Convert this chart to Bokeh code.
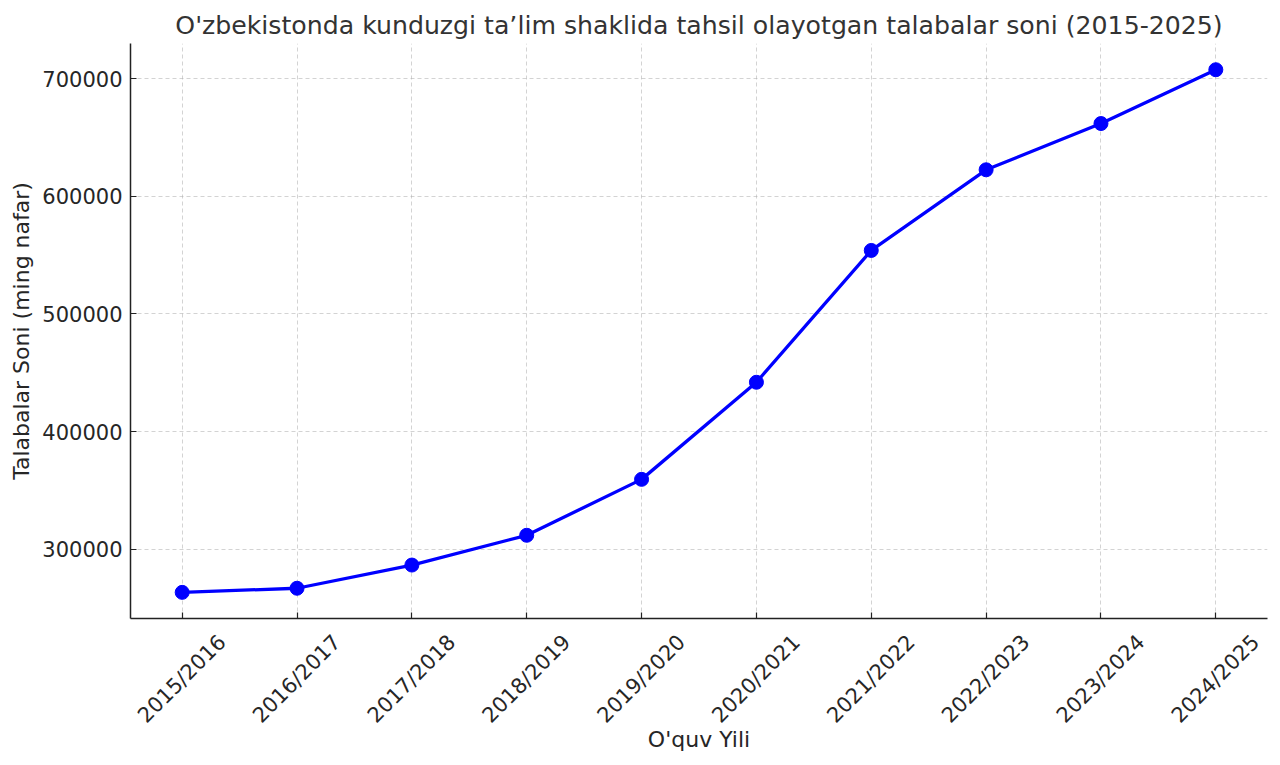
import numpy as np
from bokeh.plotting import figure
from bokeh.models import Range1d, FixedTicker, ColumnDataSource, LinearAxis
from bokeh.embed import file_html
from bokeh.resources import INLINE
from math import pi

years = ["2015/2016", "2016/2017", "2017/2018", "2018/2019", "2019/2020",
         "2020/2021", "2021/2022", "2022/2023", "2023/2024", "2024/2025"]
students = [263500, 267000, 286700, 312000, 359500, 442000, 554000, 622500, 661800, 707500]
y_ticks = [300000, 400000, 500000, 600000, 700000]

x_idx = list(range(len(years)))
src = ColumnDataSource(data=dict(x=x_idx, y=students, year=years))

FONT = "DejaVu Sans"
TXT = "#262626"

W, H = 1272, 757
BL, BR, BT, BB = 130, 5, 43, 139
x0, x1 = -0.45, len(years) - 1 + 0.45
y0, y1 = 241300, 729800
frame_w = W - BL - BR

p = figure(width=W, height=H, output_backend="svg", toolbar_location=None,
           x_range=Range1d(x0, x1), y_range=Range1d(y0, y1),
           min_border_left=BL, min_border_right=BR, min_border_top=BT, min_border_bottom=BB)

p.title.text = "O'zbekistonda kunduzgi ta\u2019lim shaklida tahsil olayotgan talabalar soni (2015-2025)"
p.title.align = "center"
p.title.text_font = FONT
p.title.text_font_size = "25.2px"
p.title.text_font_style = "normal"
p.title.text_color = "#333333"
p.title.offset = 0
p.title.standoff = 8

p.outline_line_color = None
p.background_fill_color = "white"
p.border_fill_color = "white"

p.line("x", "y", source=src, line_color="#0000ff", line_width=3.3)
p.scatter("x", "y", source=src, size=14, fill_color="#0000ff", line_color="#0000ff")

xa = p.xaxis[0]
ya = p.yaxis[0]
xa.ticker = FixedTicker(ticks=x_idx)
xa.major_label_overrides = {i: "" for i in x_idx}
ya.ticker = FixedTicker(ticks=y_ticks)
ya.formatter.use_scientific = False
ya.axis_label = "Talabalar Soni (ming nafar)"

for ax in (xa, ya):
    ax.axis_label_text_font = FONT
    ax.axis_label_text_font_size = "22px"
    ax.axis_label_text_font_style = "normal"
    ax.axis_label_text_color = TXT
    ax.major_label_text_font = FONT
    ax.major_label_text_font_size = "21px"
    ax.major_label_text_color = TXT
    ax.axis_line_color = "#222222"
    ax.axis_line_width = 1.5
    ax.major_tick_line_color = "#222222"
    ax.major_tick_line_width = 1.2
    ax.major_tick_out = 0
    ax.major_tick_in = 6
    ax.minor_tick_line_color = None
    ax.major_label_standoff = 8

xa.major_label_text_font_size = "1px"
xa.major_label_standoff = 0
ya.axis_label_standoff = 5

# second axis only for the 45-degree category labels, shifted so each label is
# centred under its tick as in the reference
shift = 40 * (x1 - x0) / frame_w
p.extra_x_ranges = {"lab": Range1d(x0 - shift, x1 - shift)}
la = LinearAxis(x_range_name="lab", ticker=FixedTicker(ticks=x_idx),
                major_label_overrides={i: y for i, y in enumerate(years)},
                major_label_orientation=pi / 4,
                axis_label="O'quv Yili")
la.axis_line_color = None
la.major_tick_line_color = None
la.minor_tick_line_color = None
la.major_tick_out = 0
la.major_tick_in = 0
la.major_label_standoff = 20
la.major_label_text_font = FONT
la.major_label_text_font_size = "21px"
la.major_label_text_color = TXT
la.axis_label_text_font = FONT
la.axis_label_text_font_size = "22px"
la.axis_label_text_font_style = "normal"
la.axis_label_text_color = TXT
la.axis_label_standoff = -12
p.add_layout(la, "below")

for g in (p.xgrid[0], p.ygrid[0]):
    g.grid_line_color = "#b0b0b0"
    g.grid_line_alpha = 0.7
    g.grid_line_dash = "4 3"
    g.grid_line_width = 0.8

open("out.html", "w").write(file_html(p, INLINE))
